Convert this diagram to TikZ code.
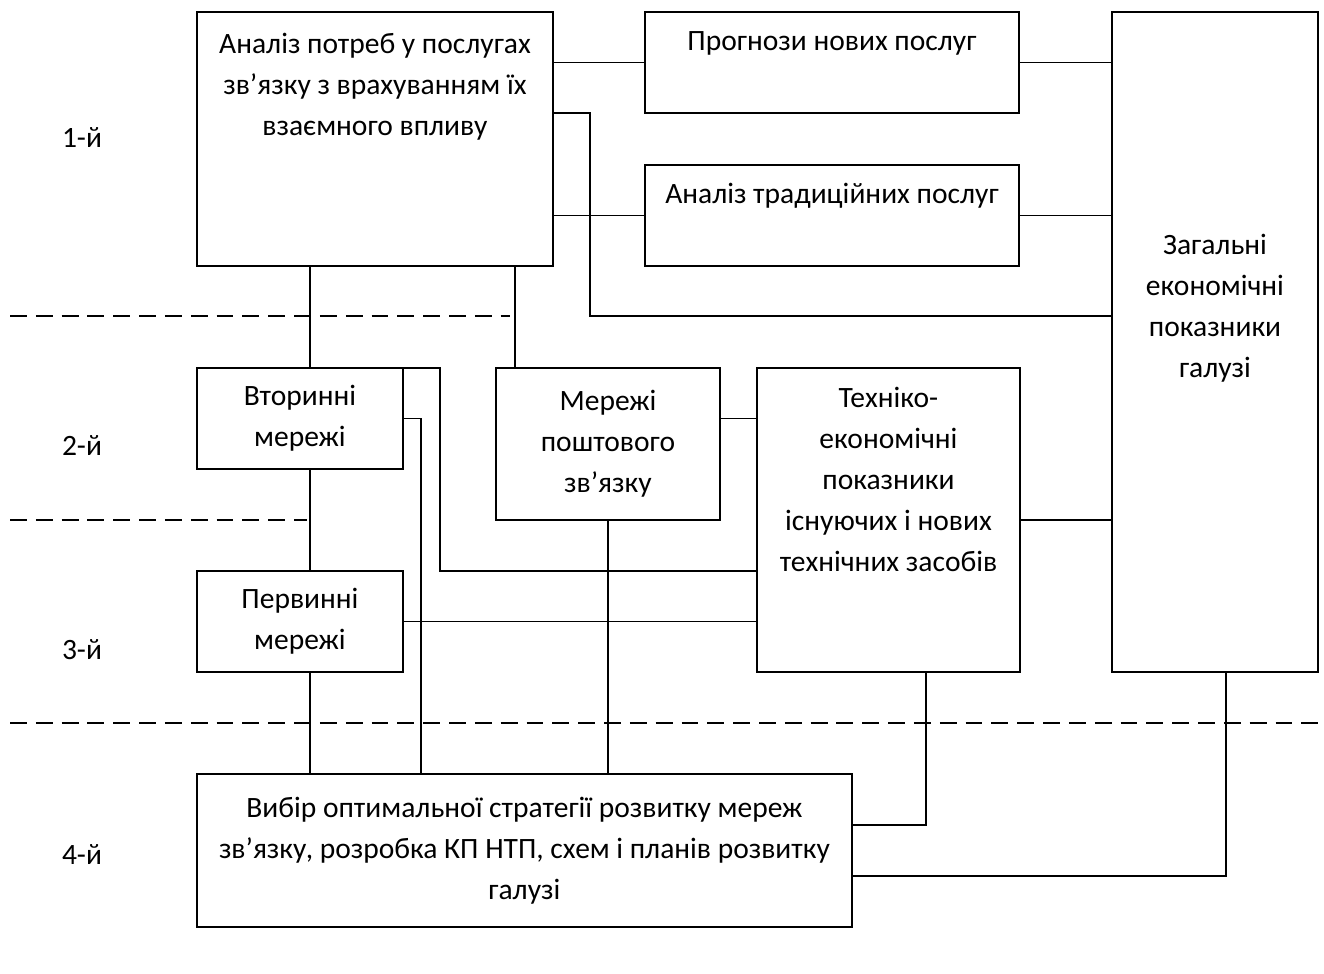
\documentclass[tikz,border=0pt]{standalone}
\usepackage{fontspec}
\setmainfont{Carlito}
\usetikzlibrary{positioning}

\begin{document}
\begin{tikzpicture}[
          x=0.02cm, y=-0.02cm,
          line width=0.9pt,
          every node/.style={font=\fontsize{16.8}{23.4}\selectfont},
          box/.style={draw, rectangle, anchor=north west, inner sep=0pt, outer sep=0pt, align=center},
          txt/.style={inner sep=0pt, align=center},
          levelline/.style={dash pattern=on 9.6pt off 5.1pt}
        ]
        \useasboundingbox (0,0) rectangle (1324,973);

        % levels
        \node (l1) at (82,138) {1-й};
        \node (l2) at (82,446) {2-й};
        \node (l3) at (82,650) {3-й};
        \node (l4) at (82,855) {4-й};
        \draw[levelline] (10,316) -- (510,316);
        \draw[levelline] (10,520) -- (307,520);
        \draw[levelline] (10,723) -- (1318,723);

        % boxes
        \node[box, minimum width=7.12cm, minimum height=5.08cm] (an) at (197,12) {};
        \node[txt, anchor=north] (an-t) at (an.north |- 0,32)
          {Аналіз потреб у послугах\\зв’язку з врахуванням їх\\взаємного впливу};
        \node[box, minimum width=7.48cm, minimum height=2.02cm] (prog) at (645,12) {};
        \node[txt, anchor=base] (prog-t) at (prog.north |- 0,51) {Прогнози нових послуг};
        \node[box, minimum width=7.48cm, minimum height=2.02cm] (trad) at (645,165) {};
        \node[txt, anchor=base] (trad-t) at (trad.north |- 0,204) {Аналіз традиційних послуг};
        \node[box, minimum width=4.12cm, minimum height=13.2cm] (zag) at (1112,12) {};
        \node[txt, anchor=north] (zag-t) at (zag.north |- 0,233)
          {Загальні\\економічні\\показники\\галузі};
        \node[box, minimum width=4.12cm, minimum height=2.02cm] (vtor) at (197,368)
          {Вторинні\\мережі};
        \node[box, minimum width=4.48cm, minimum height=3.04cm] (posht) at (496,368)
          {Мережі\\поштового\\зв’язку};
        \node[box, minimum width=5.26cm, minimum height=6.08cm] (tekh) at (757,368) {};
        \node[txt, anchor=north] (tekh-t) at (tekh.north |- 0,386)
          {Техніко-\\економічні\\показники\\існуючих і нових\\технічних засобів};
        \node[box, minimum width=4.12cm, minimum height=2.02cm] (perv) at (197,571)
          {Первинні\\мережі};
        \node[box, minimum width=13.1cm, minimum height=3.06cm] (vybir) at (197,774)
          {Вибір оптимальної стратегії розвитку мереж\\зв’язку, розробка КП НТП, схем і планів розвитку\\галузі};

        % links, level 1
        \draw (an.east |- prog.west) -- (prog.west);
        \draw (prog.east) -- (zag.west |- prog.east);
        \draw (an.east |- trad.west) -- (trad.west);
        \draw (trad.east) -- (zag.west |- trad.east);
        \draw (an.east |- 0,113) -- (590,113) |- (zag.west |- 0,316);
        \draw (an.south -| 310,0) -- (vtor.north -| 310,0);
        \draw (an.south -| 515,0) -- (posht.north -| 515,0);

        % links, levels 2 and 3
        \draw (vtor.north east) -- (440,368) |- (tekh.west |- 0,571);
        \draw (vtor.east) -| (vybir.north -| 421,0);
        \draw (vtor.south -| 310,0) -- (perv.north -| 310,0);
        \draw (posht.east |- vtor.east) -- (tekh.west |- vtor.east);
        \draw (posht.south) -- (posht.south |- vybir.north);
        \draw (perv.east) -- (tekh.west |- perv.east);
        \draw (perv.south -| 310,0) -- (vybir.north -| 310,0);
        \draw (tekh.east) -- (zag.west |- tekh.east);

        % links, level 4
        \draw (tekh.south -| 926,0) |- (vybir.east |- 0,825);
        \draw (zag.south -| 1226,0) |- (vybir.east |- 0,876);

        \end{tikzpicture}
\end{document}
